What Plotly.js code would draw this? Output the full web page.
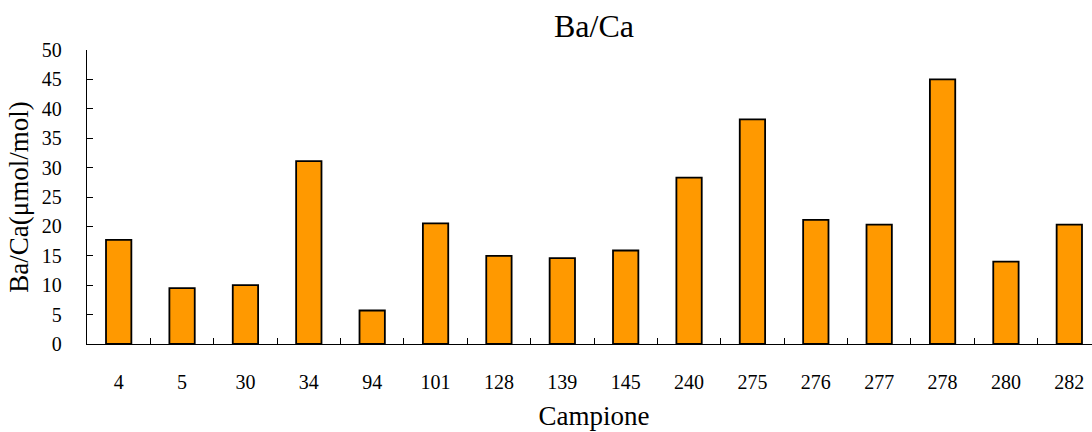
<!DOCTYPE html>
<html>
<head>
<meta charset="utf-8">
<script src="https://cdn.plot.ly/plotly-3.0.1.min.js"></script>
<style>
html,body{margin:0;padding:0;overflow:hidden;background:#fff;}
#chart{width:1101px;height:432px;}
</style>
</head>
<body>
<div id="chart"></div>
<script>
const samples = ["4","5","30","34","94","101","128","139","145","240","275","276","277","278","280","282"];
const baCa = [17.7, 9.5, 10.0, 31.1, 5.7, 20.5, 15.0, 14.6, 15.9, 28.3, 38.2, 21.1, 20.3, 45.0, 14.0, 20.3];

const font = "Liberation Serif, Times New Roman, DejaVu Serif, serif";

const trace = {
  type: "bar",
  x: samples,
  y: baCa,
  width: 0.4,
  marker: {color: "#FF9900", line: {color: "#000000", width: 1.8}},
  hoverinfo: "x+y"
};

const layout = {
  width: 1101,
  height: 432,
  margin: {l: 87, r: 0, t: 50, b: 88},
  paper_bgcolor: "#ffffff",
  plot_bgcolor: "#ffffff",
  showlegend: false,
  font: {family: font, color: "#000000", size: 20},
  title: {text: "Ba/Ca", font: {family: font, size: 32, color: "#000"}, xref: "paper", x: 0.5, xanchor: "center", y: 0.94, yanchor: "middle"},
  xaxis: {
    type: "category",
    showline: true, linecolor: "#000", linewidth: 1.2,
    ticks: "inside", ticklen: 6, tickcolor: "#000", tickwidth: 1,
    tickson: "boundaries",
    showgrid: false, zeroline: false,
    ticklabelstandoff: 20,
    tickfont: {family: font, size: 20},
    title: {text: "Campione", font: {family: font, size: 27}, standoff: 13},
    automargin: false,
    fixedrange: true
  },
  yaxis: {
    range: [0, 50], dtick: 5, tick0: 0,
    showline: true, linecolor: "#000", linewidth: 1.2,
    ticks: "inside", ticklen: 6, tickcolor: "#000", tickwidth: 1,
    showgrid: false, zeroline: false,
    ticklabelstandoff: 20,
    tickfont: {family: font, size: 20},
    title: {text: "Ba/Ca(μmol/mol)", font: {family: font, size: 27}, standoff: 5},
    automargin: false,
    fixedrange: true
  }
};

Plotly.newPlot("chart", [trace], layout, {displayModeBar: false, staticPlot: true});
</script>
</body>
</html>
